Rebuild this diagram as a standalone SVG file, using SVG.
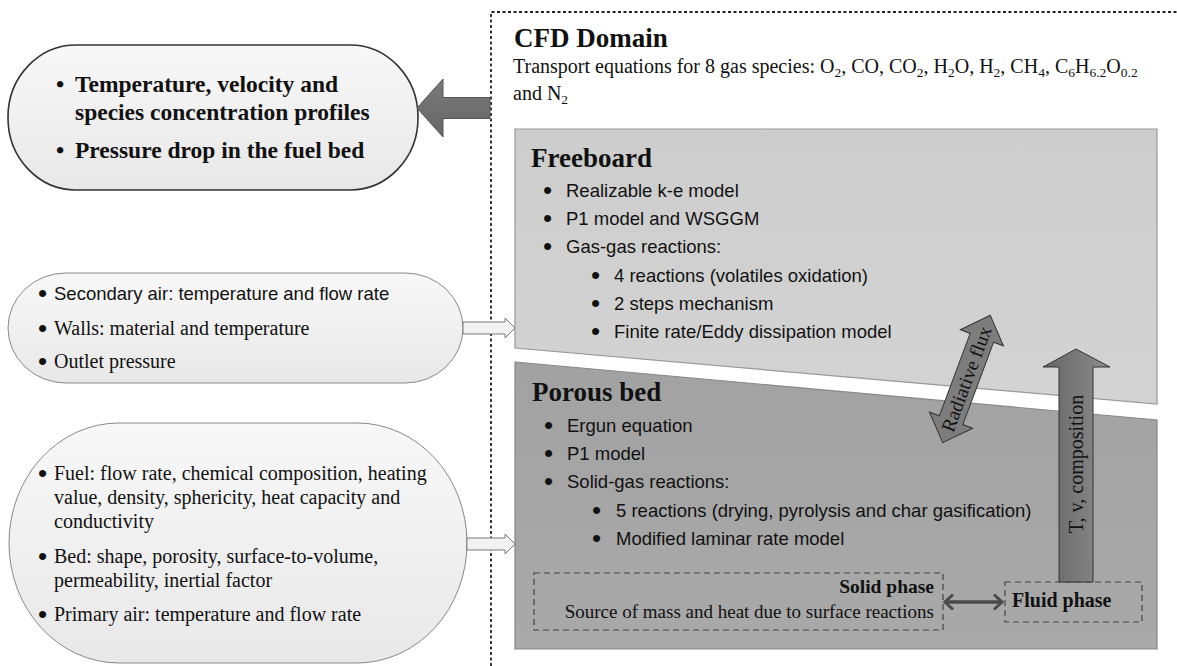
<svg xmlns="http://www.w3.org/2000/svg" width="1177" height="666" viewBox="0 0 1177 666">
<defs>
<linearGradient id="ovalFill" x1="0" y1="0" x2="0" y2="1"><stop offset="0" stop-color="#f8f8f8"/><stop offset="1" stop-color="#e8e8e8"/></linearGradient>
<linearGradient id="vArrow" x1="0" y1="0" x2="1" y2="0"><stop offset="0" stop-color="#666"/><stop offset="1" stop-color="#8c8c8c"/></linearGradient>
<linearGradient id="bigArrow" x1="0" y1="0" x2="0" y2="1"><stop offset="0" stop-color="#7a7a7a"/><stop offset="1" stop-color="#666"/></linearGradient>
<linearGradient id="fbFill" x1="0" y1="0" x2="0" y2="1"><stop offset="0" stop-color="#cdcdcd"/><stop offset="1" stop-color="#d3d3d3"/></linearGradient>
<linearGradient id="pbFill" x1="0" y1="0" x2="0" y2="1"><stop offset="0" stop-color="#a2a2a2"/><stop offset="1" stop-color="#a9a9a9"/></linearGradient>
<marker id="chev" viewBox="0 0 12 18" refX="10" refY="9" markerWidth="12" markerHeight="18" orient="auto-start-reverse" markerUnits="userSpaceOnUse"><path d="M2,1.5 L10,9 L2,16.5" fill="none" stroke="#4a4a4a" stroke-width="3"/></marker>
</defs>
<style>
.sans{font-family:"Liberation Sans",Arial,sans-serif;font-size:18.5px;fill:#111}
.serif{font-family:"Liberation Serif","Times New Roman",serif;fill:#111}
.lt{font-size:20px}
.sub{font-size:13.5px}
.hd{font-weight:bold;font-size:27px}
.bl{font-family:"Liberation Sans",Arial,sans-serif;font-size:26px;fill:#111}
.oval{fill:url(#ovalFill)}
.hollow{fill:#f2f2f2;stroke:#7a7a7a;stroke-width:1}
.dbox{fill:none;stroke:#444;stroke-width:1.2;stroke-dasharray:6 4}
</style>

<g id="outputs">
<rect class="oval" x="8" y="45" width="410" height="145" rx="68" ry="72" stroke="#333" stroke-width="1.6"/>
<text class="serif" font-weight="bold" font-size="23.5px">
<tspan x="56" y="92">•</tspan><tspan x="75" y="92">Temperature, velocity and</tspan>
<tspan x="75" y="120">species concentration profiles</tspan>
<tspan x="56" y="158">•</tspan><tspan x="75" y="158">Pressure drop in the fuel bed</tspan>
</text>
</g>

<g id="boundary">
<rect class="oval" x="8" y="273" width="455" height="110" rx="58" ry="55" stroke="#888" stroke-width="1"/>
<text class="bl" x="38" y="302">•</text><text class="sans" x="54" y="300">Secondary air: temperature and flow rate</text>
<text class="bl" x="38" y="337">•</text><text class="serif lt" x="54" y="335">Walls: material and temperature</text>
<text class="bl" x="38" y="370">•</text><text class="serif lt" x="54" y="368">Outlet pressure</text>
</g>

<g id="bed-inputs">
<rect class="oval" x="9" y="423" width="458" height="240" rx="110" ry="120" stroke="#888" stroke-width="1"/>
<text class="bl" x="38" y="482">•</text>
<text class="serif lt"><tspan x="54" y="480">Fuel: flow rate, chemical composition, heating</tspan><tspan x="54" y="504">value, density, sphericity, heat capacity and</tspan><tspan x="54" y="528">conductivity</tspan></text>
<text class="bl" x="38" y="565">•</text>
<text class="serif lt"><tspan x="54" y="563">Bed: shape, porosity, surface-to-volume,</tspan><tspan x="54" y="587">permeability, inertial factor</tspan></text>
<text class="bl" x="38" y="623">•</text><text class="serif lt" x="54" y="621">Primary air: temperature and flow rate</text>
</g>

<g id="cfd-domain">
<path d="M491,666 V12 H1177" fill="none" stroke="#222" stroke-width="1.8" stroke-dasharray="3 2.5"/>
<text class="serif" x="514" y="47" font-weight="bold" font-size="27px">CFD Domain</text>
<text class="serif" x="513" y="73" font-size="20px">Transport equations for 8 gas species: O<tspan class="sub" dy="4">2</tspan><tspan dy="-4">, CO, CO</tspan><tspan class="sub" dy="4">2</tspan><tspan dy="-4">, H</tspan><tspan class="sub" dy="4">2</tspan><tspan dy="-4">O, H</tspan><tspan class="sub" dy="4">2</tspan><tspan dy="-4">, CH</tspan><tspan class="sub" dy="4">4</tspan><tspan dy="-4">, C</tspan><tspan class="sub" dy="4">6</tspan><tspan dy="-4">H</tspan><tspan class="sub" dy="4">6.2</tspan><tspan dy="-4">O</tspan><tspan class="sub" dy="4">0.2</tspan></text>
<text class="serif" x="513" y="100" font-size="20px">and N<tspan class="sub" dy="4">2</tspan></text>
</g>

<g id="freeboard">
<polygon points="515,129 1157,129 1157,404 515,348" fill="url(#fbFill)" stroke="#999" stroke-width="1.2"/>
<text class="serif hd" x="531" y="167">Freeboard</text>
<text class="bl" x="543" y="199">•</text><text class="sans" x="566" y="197">Realizable k-e model</text>
<text class="bl" x="543" y="227">•</text><text class="sans" x="566" y="225">P1 model and WSGGM</text>
<text class="bl" x="543" y="255">•</text><text class="sans" x="566" y="253">Gas-gas reactions:</text>
<text class="bl" x="591" y="284">•</text><text class="sans" x="614" y="282">4 reactions (volatiles oxidation)</text>
<text class="bl" x="591" y="312">•</text><text class="sans" x="614" y="310">2 steps mechanism</text>
<text class="bl" x="591" y="340">•</text><text class="sans" x="614" y="338">Finite rate/Eddy dissipation model</text>
</g>

<g id="porous-bed">
<polygon points="515,362 1157,420 1157,649 515,649" fill="url(#pbFill)" stroke="#888" stroke-width="1.2"/>
<text class="serif hd" x="532" y="401">Porous bed</text>
<text class="bl" x="544" y="434">•</text><text class="sans" x="567" y="432">Ergun equation</text>
<text class="bl" x="544" y="462">•</text><text class="sans" x="567" y="460">P1 model</text>
<text class="bl" x="544" y="490">•</text><text class="sans" x="567" y="488">Solid-gas reactions:</text>
<text class="bl" x="592" y="519">•</text><text class="sans" x="616" y="517">5 reactions (drying, pyrolysis and char gasification)</text>
<text class="bl" x="592" y="547">•</text><text class="sans" x="616" y="545">Modified laminar rate model</text>
</g>

<g id="solid-phase">
<rect class="dbox" x="534" y="573" width="409" height="57"/>
<text class="serif" x="934" y="593" text-anchor="end" font-weight="bold" font-size="19.5px">Solid phase</text>
<text class="serif" x="934" y="618" text-anchor="end" font-size="19px">Source of mass and heat due to surface reactions</text>
</g>

<g id="fluid-phase">
<rect class="dbox" x="1005" y="582" width="137" height="40"/>
<text class="serif" x="1012" y="607" font-weight="bold" font-size="20px">Fluid phase</text>
</g>

<g id="connectors">
<polygon points="490,97.5 443,97.5 443,79 417,108 443,137 443,118.5 490,118.5" fill="url(#bigArrow)" stroke="#555" stroke-width="1"/>
<polygon class="hollow" points="463,322 505,322 505,318 515,328 505,338 505,334 463,334"/>
<polygon class="hollow" points="467,538 505,538 505,534 515,544 505,554 505,550 467,550"/>
<polygon points="1059,582 1059,367 1043,367 1076,349 1110,367 1093,367 1093,582" fill="url(#vArrow)" stroke="#333" stroke-width="1"/>
<text class="serif" transform="translate(1083,464) rotate(-90)" text-anchor="middle" font-size="20px">T, v, composition</text>
<g transform="translate(966.5,379) rotate(-69.5)">
<polygon points="68,0 44,-23 44,-12.5 -44,-12.5 -44,-23 -68,0 -44,23 -44,12.5 44,12.5 44,23" fill="#7d7d7d" stroke="#333" stroke-width="1"/>
<text class="serif" x="0" y="6.5" text-anchor="middle" font-size="19.5px">Radiative flux</text>
</g>
<line x1="945" y1="602" x2="1002" y2="602" stroke="#4a4a4a" stroke-width="3.5" marker-start="url(#chev)" marker-end="url(#chev)"/>
</g>
</svg>
